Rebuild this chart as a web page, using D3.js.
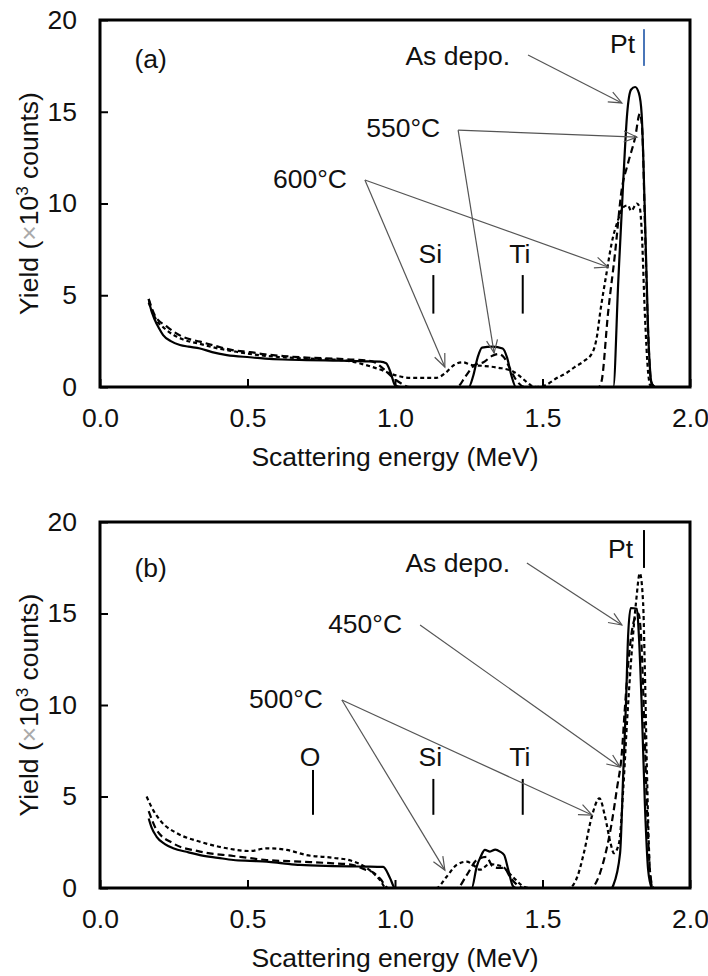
<!DOCTYPE html>
<html lang="en">
<head>
<meta charset="utf-8">
<title>RBS spectra</title>
<script src="https://cdn.jsdelivr.net/npm/d3@7"></script>
<style>
  body { margin: 0; background: #fff; }
  svg text { font-family: "Liberation Sans", Arial, sans-serif; fill: #111; }
</style>
</head>
<body>
<script>
var xTicks = [0, 0.5, 1.0, 1.5, 2.0];
var yTicks = [0, 5, 10, 15, 20];

// panel (a) : [energy MeV, yield x10^3]
var asDepoA = [[0.165,4.8],[0.17,4.4],[0.186,3.65],[0.2,3.2],[0.214,2.83],[0.24,2.5],[0.271,2.29],[0.3,2.2],[0.339,2.1],[0.38,1.9],[0.43,1.74],[0.508,1.62],[0.56,1.55],[0.62,1.5],[0.7,1.47],[0.79,1.44],[0.85,1.42],[0.9,1.4],[0.95,1.38],[0.97,1.3],[0.985,0.8],[1.0,0.1],[1.02,0],[1.25,0],[1.265,0.6],[1.28,1.6],[1.295,2.15],[1.33,2.2],[1.365,2.1],[1.38,1.6],[1.395,0.6],[1.41,0],[1.74,0],[1.757,5.8],[1.774,11.3],[1.787,14.9],[1.80,16.2],[1.814,16.35],[1.827,16.0],[1.836,14.9],[1.847,9.5],[1.858,3.1],[1.87,0.2],[1.88,0]];
var t550A = [[0.165,4.8],[0.186,3.9],[0.226,3.3],[0.28,2.74],[0.339,2.47],[0.4,2.2],[0.452,2.0],[0.508,1.9],[0.56,1.78],[0.62,1.69],[0.7,1.6],[0.79,1.55],[0.85,1.5],[0.9,1.45],[0.93,1.35],[0.96,1.0],[0.99,0.55],[1.02,0.2],[1.05,0],[1.21,0],[1.24,0.6],[1.27,1.2],[1.30,1.35],[1.33,1.7],[1.35,1.8],[1.37,1.6],[1.39,1.0],[1.41,0.4],[1.44,0],[1.69,0],[1.70,0.3],[1.722,4.0],[1.746,7.3],[1.768,10.7],[1.79,12.2],[1.814,13.6],[1.83,14.9],[1.838,14.0],[1.847,9.0],[1.858,3.0],[1.868,0.3],[1.88,0]];
var t600A = [[0.165,4.6],[0.186,3.8],[0.226,3.1],[0.28,2.6],[0.339,2.35],[0.4,2.1],[0.452,1.95],[0.508,1.8],[0.56,1.7],[0.62,1.62],[0.7,1.55],[0.79,1.5],[0.85,1.4],[0.9,1.2],[0.95,0.95],[1.0,0.65],[1.05,0.5],[1.14,0.5],[1.17,0.75],[1.2,1.2],[1.23,1.35],[1.26,1.2],[1.3,1.15],[1.35,1.05],[1.4,0.85],[1.43,0.5],[1.46,0.1],[1.48,0],[1.51,0.1],[1.55,0.5],[1.58,0.75],[1.61,1.1],[1.64,1.4],[1.67,1.9],[1.685,2.8],[1.695,4.0],[1.717,6.2],[1.734,7.8],[1.756,9.1],[1.774,9.8],[1.79,9.9],[1.8,9.6],[1.82,10.0],[1.83,9.75],[1.836,8.6],[1.847,4.0],[1.858,0.8],[1.865,0.1],[1.875,0]];

// panel (b)
var asDepoB = [[0.165,3.8],[0.175,3.3],[0.192,2.8],[0.22,2.4],[0.248,2.17],[0.3,1.95],[0.339,1.8],[0.4,1.65],[0.452,1.53],[0.508,1.48],[0.565,1.44],[0.62,1.35],[0.678,1.26],[0.79,1.2],[0.85,1.18],[0.9,1.17],[0.96,1.15],[0.983,0.55],[1.0,0],[1.26,0],[1.277,1.17],[1.29,1.7],[1.305,2.08],[1.322,1.99],[1.34,2.1],[1.356,1.99],[1.37,1.8],[1.384,1.0],[1.40,0.1],[1.41,0],[1.735,0],[1.74,0.15],[1.763,1.9],[1.774,6.4],[1.783,10.1],[1.79,13.7],[1.799,15.3],[1.82,15.25],[1.827,13.7],[1.836,10.1],[1.847,4.6],[1.858,1.0],[1.87,0]];
var t450B = [[0.165,4.2],[0.192,3.17],[0.248,2.44],[0.339,1.99],[0.452,1.75],[0.565,1.53],[0.678,1.44],[0.79,1.35],[0.85,1.28],[0.9,1.0],[0.926,0.85],[0.95,0.5],[0.977,0],[1.21,0],[1.243,0.7],[1.277,1.53],[1.31,1.7],[1.33,1.2],[1.35,1.1],[1.37,1.1],[1.39,0.6],[1.42,0.1],[1.44,0],[1.663,0],[1.706,1.4],[1.734,3.5],[1.753,5.5],[1.768,7.2],[1.78,10],[1.795,13],[1.81,14.6],[1.825,15.0],[1.835,13.5],[1.845,9],[1.855,4],[1.865,0.8],[1.875,0]];
var t500B = [[0.158,5.0],[0.18,4.26],[0.209,3.6],[0.26,3.0],[0.339,2.53],[0.43,2.17],[0.508,2.02],[0.565,2.17],[0.633,2.08],[0.70,1.8],[0.79,1.65],[0.85,1.5],[0.904,1.1],[0.949,0.44],[0.97,0],[1.14,0],[1.175,0.62],[1.209,1.26],[1.243,1.44],[1.265,1.26],[1.288,1.0],[1.32,1.3],[1.36,1.2],[1.40,0.6],[1.44,0.05],[1.46,0],[1.59,0],[1.62,0.7],[1.64,1.9],[1.667,3.9],[1.693,4.9],[1.712,3.9],[1.73,2.5],[1.742,1.9],[1.76,2.5],[1.774,5.5],[1.787,9.2],[1.802,12.8],[1.817,15.6],[1.83,17.2],[1.841,15.6],[1.847,11.9],[1.854,6.4],[1.864,1.0],[1.872,0]];

// element edges: name, energy, label baseline, line from / to (yield units)
var elemA = [["Si",1.13,6.76,4.0,6.1],["Ti",1.433,6.76,4.0,6.1]];
var elemB = [["O",0.722,6.65,4.0,6.45],["Si",1.13,6.65,4.0,5.96],["Ti",1.433,6.65,4.0,5.96]];

// annotation labels: text, anchor end point, arrow origin, arrow targets
var notesA = [
  ["As depo.", [1.39,17.55], [1.451,18.09], [[1.769,15.48]]],
  ["550\u00B0C", [1.153,13.62], [1.214,14.0], [[1.82,13.62],[1.336,1.85]]],
  ["600\u00B0C", [0.837,10.84], [0.898,11.28], [[1.722,6.54],[1.169,1.09]]]
];
var notesB = [
  ["As depo.", [1.39,17.27], [1.447,17.76], [[1.769,14.37]]],
  ["450\u00B0C", [1.024,13.93], [1.085,14.37], [[1.763,6.61]]],
  ["500\u00B0C", [0.756,9.84], [0.82,10.27], [[1.169,0.98],[1.668,3.99]]]
];

var w = 708, h = 976;
var left = 100, right = 690;
var fs = 26.5;

var svg = d3.select("body").append("svg")
    .attr("width", w)
    .attr("height", h);

var defs = svg.append("defs");
defs.append("marker")
    .attr("id", "arr")
    .attr("markerUnits", "userSpaceOnUse")
    .attr("markerWidth", 16).attr("markerHeight", 14)
    .attr("viewBox", "-1 -7 16 14")
    .attr("refX", 13).attr("refY", 0)
    .attr("orient", "auto")
  .append("path")
    .attr("d", "M0,-5.5L13,0L0,5.5")
    .attr("fill", "none")
    .attr("stroke", "#555")
    .attr("stroke-width", 1.2);

function drawPanel(top, bottom, tag, series, elems, notes, ptColor, pt) {
  var x = d3.scaleLinear().domain([0, 2]).range([left, right]);
  var y = d3.scaleLinear().domain([0, 20]).range([bottom, top]);
  var g = svg.append("g");

  var xAxis = d3.axisBottom(x).tickValues(xTicks).tickSize(-8).tickPadding(21)
      .tickFormat(d3.format(".1f"));
  var gx = g.append("g").attr("transform", "translate(0," + bottom + ")").call(xAxis);
  var yAxis = d3.axisLeft(y).tickValues(yTicks).tickSize(-8).tickPadding(23);
  var gy = g.append("g").attr("transform", "translate(" + left + ",0)").call(yAxis);
  [gx, gy].forEach(function(a) {
    a.select(".domain").remove();
    a.selectAll("line").attr("stroke", "#000").attr("stroke-width", 2);
    a.selectAll("text").attr("font-size", fs).attr("fill", "#111")
      .attr("font-family", "'Liberation Sans', Arial, sans-serif");
  });

  g.append("rect")
    .attr("x", left).attr("y", top)
    .attr("width", right - left).attr("height", bottom - top)
    .attr("fill", "none").attr("stroke", "#000").attr("stroke-width", 3);

  // axis titles
  g.append("text")
    .attr("x", (left + right) / 2) .attr("y", bottom + 79)
    .attr("text-anchor", "middle").attr("font-size", fs)
    .text("Scattering energy (MeV)");
  var yt = g.append("text")
    .attr("transform", "translate(38," + ((top + bottom) / 2) + ") rotate(-90)")
    .attr("text-anchor", "middle").attr("font-size", fs);
  yt.append("tspan").text("Yield (");
  yt.append("tspan").attr("fill", "#aaa").text("\u00D7");
  yt.append("tspan").text("10");
  yt.append("tspan").attr("font-size", 17).attr("dy", -10).text("3");
  yt.append("tspan").attr("dy", 10).text(" counts)");

  g.append("text")
    .attr("x", x(0.117)).attr("y", y(tag[1]))
    .attr("font-size", fs).text(tag[0]);

  var line = d3.line()
    .x(function(d) { return x(d[0]); })
    .y(function(d) { return y(d[1]); })
    .curve(d3.curveMonotoneX);
  var dashes = [null, "7,4", "4,3"];
  series.forEach(function(s, i) {
    g.append("path")
      .datum(s)
      .attr("d", line)
      .attr("fill", "none")
      .attr("stroke", "#000")
      .attr("stroke-width", 2.2)
      .attr("stroke-dasharray", dashes[i]);
  });

  // element edge markers
  elems.forEach(function(e) {
    g.append("text")
      .attr("x", x(e[1]) - 3).attr("y", y(e[2]))
      .attr("text-anchor", "middle").attr("font-size", fs).text(e[0]);
    g.append("line")
      .attr("x1", x(e[1])).attr("x2", x(e[1]))
      .attr("y1", y(e[3])).attr("y2", y(e[4]))
      .attr("stroke", "#000").attr("stroke-width", 2);
  });
  g.append("text")
    .attr("x", x(pt[0])).attr("y", y(pt[1]))
    .attr("text-anchor", "end").attr("font-size", fs).text("Pt");
  g.append("line")
    .attr("x1", x(1.844)).attr("x2", x(1.844))
    .attr("y1", y(pt[2])).attr("y2", y(pt[3]))
    .attr("stroke", ptColor).attr("stroke-width", 2);

  // annotations
  notes.forEach(function(n) {
    g.append("text")
      .attr("x", x(n[1][0])).attr("y", y(n[1][1]))
      .attr("text-anchor", "end").attr("font-size", fs).text(n[0]);
    n[3].forEach(function(t) {
      g.append("line")
        .attr("x1", x(n[2][0])).attr("y1", y(n[2][1]))
        .attr("x2", x(t[0])).attr("y2", y(t[1]))
        .attr("stroke", "#555").attr("stroke-width", 1.2)
        .attr("marker-end", "url(#arr)");
    });
  });
}

drawPanel(20, 387, ["(a)", 17.4], [asDepoA, t550A, t600A], elemA, notesA,
  "#4a76b8", [1.814, 18.2, 17.5, 19.5]);
drawPanel(522, 888, ["(b)", 17.0], [asDepoB, t450B, t500B], elemB, notesB,
  "#000", [1.807, 18.03, 17.49, 19.56]);
</script>
</body>
</html>
